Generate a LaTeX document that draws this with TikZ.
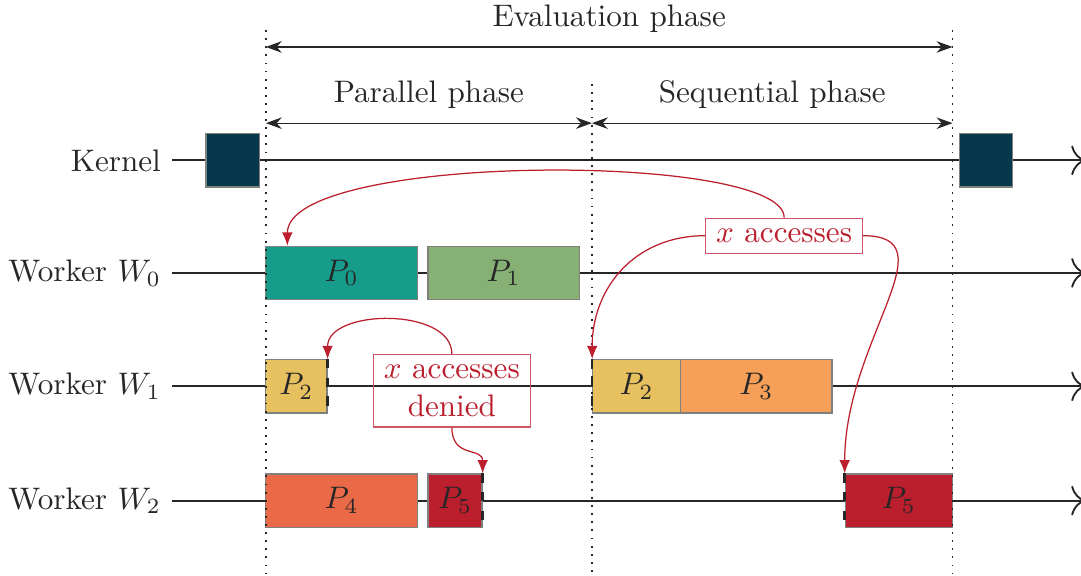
\documentclass[tikz,border=0pt]{standalone}
\usetikzlibrary{arrows.meta}
\definecolor{kernelc}{HTML}{05384A}
\definecolor{taskA}{HTML}{179C8C}
\definecolor{taskB}{HTML}{86B074}
\definecolor{taskC}{HTML}{E7C160}
\definecolor{taskD}{HTML}{F59F58}
\definecolor{taskE}{HTML}{EA6A47}
\definecolor{taskF}{HTML}{BB1E2D}
\definecolor{accred}{HTML}{BB1E2D}
\tikzset{
    task/.style={draw=gray, inner sep=0pt, minimum height=0.6cm, text=black!85},
    lane/.style={semithick, black!85, -{To[length=1.6mm]}},
    phase/.style={black!85, {Stealth[length=1.8mm,width=1.3mm]}-{Stealth[length=1.8mm,width=1.3mm]}},
    sep/.style={dotted, semithick, black!85},
    note/.style={draw=accred!75, text=accred, align=center},
    access/.style={accred, -{Latex[length=1.5mm,width=1.2mm]}},
    cut/.style={dashed, thick, black!85}
}
\begin{document}
\begin{tikzpicture}
    \useasboundingbox (0,0) rectangle (12.2,-6.5);

    \node[anchor=east, text=black!85] (lk) at (1.94, -1.81) {Kernel};
    \node[anchor=east, text=black!85] (l0) at (1.94, -3.08) {Worker $W_0$};
    \node[anchor=east, text=black!85] (l1) at (1.94, -4.36) {Worker $W_1$};
    \node[anchor=east, text=black!85] (l2) at (1.94, -5.65) {Worker $W_2$};

    \coordinate (ek) at (12.25, -1.81);
    \coordinate (e0) at (12.25, -3.08);
    \coordinate (e1) at (12.25, -4.36);
    \coordinate (e2) at (12.25, -5.65);

    \draw[lane] (lk.east) -- (ek);
    \draw[lane] (l0.east) -- (e0);
    \draw[lane] (l1.east) -- (e1);
    \draw[lane] (l2.east) -- (e2);

    \node[task, fill=kernelc, minimum width=0.6cm] (k1) at (2.625, -1.81) {};
    \node[task, fill=kernelc, minimum width=0.6cm] (k2) at (11.13, -1.81) {};

    \node[task, fill=taskA, minimum width=1.71cm] (p0) at (3.855, -3.08) {$P_0$};
    \node[task, fill=taskB, minimum width=1.71cm] (p1) at (5.685, -3.08) {$P_1$};

    \node[task, fill=taskC, minimum width=0.69cm] (p2a) at (3.345, -4.36) {$P_2$};
    \node[task, fill=taskC, minimum width=0.99cm] (p2b) at (7.185, -4.36) {$P_2$};
    \node[task, fill=taskD, minimum width=1.71cm] (p3) at (8.535, -4.36) {$P_3$};

    \node[task, fill=taskE, minimum width=1.71cm] (p4) at (3.855, -5.65) {$P_4$};
    \node[task, fill=taskF, minimum width=0.61cm] (p5a) at (5.135, -5.65) {$P_5$};
    \node[task, fill=taskF, minimum width=1.21cm] (p5b) at (10.145, -5.65) {$P_5$};

    \draw[cut] (p2a.north east) -- (p2a.south east);
    \draw[cut] (p5a.north east) -- (p5a.south east);
    \draw[cut] (p2b.north west) -- (p2b.south west);
    \draw[cut] (p5b.north west) -- (p5b.south west);

    \coordinate (s1t) at (3.00, -0.34);
    \coordinate (s1b) at (3.00, -6.50);
    \coordinate (s2t) at (6.68, -0.95);
    \coordinate (s2b) at (6.68, -6.50);
    \coordinate (s3t) at (10.75, -0.34);
    \coordinate (s3b) at (10.75, -6.50);
    \draw[sep] (s1t) -- (s1b);
    \draw[sep] (s2t) -- (s2b);
    \draw[sep] (s3t) -- (s3b);

    \coordinate (ea) at (3.00, -0.53);
    \coordinate (eb) at (10.75, -0.53);
    \coordinate (pa) at (3.00, -1.39);
    \coordinate (pb) at (6.68, -1.39);
    \coordinate (pc) at (10.75, -1.39);
    \draw[phase] (ea) -- node[above=1pt, text=black!85] (evl) {Evaluation phase} (eb);
    \draw[phase] (pa) -- node[above=1pt, text=black!85] (pal) {Parallel phase} (pb);
    \draw[phase] (pb) -- node[above=1pt, text=black!85] (sql) {Sequential phase} (pc);

    \node[note] (acc) at (8.85, -2.66) {$x$ accesses};
    \node[note] (den) at (5.10, -4.41) {$x$ accesses\\denied};

    \draw[access] (acc.north) .. controls +(0, 0.745) and +(0, 1.055) .. ([xshift=0.25cm]p0.north west);
    \draw[access] (acc.west) .. controls +(-0.8, 0) and +(0, 0.8) .. (p2b.north west);
    \draw[access] (acc.east) .. controls +(1.0, 0) and +(0, 1.5) .. (p5b.north west);
    \draw[access] (den.north) .. controls +(0, 0.53) and +(0, 0.57) .. (p2a.north east);
    \draw[access] (den.south) .. controls +(0, -0.35) and +(0, 0.3) .. (p5a.north east);
\end{tikzpicture}
\end{document}
